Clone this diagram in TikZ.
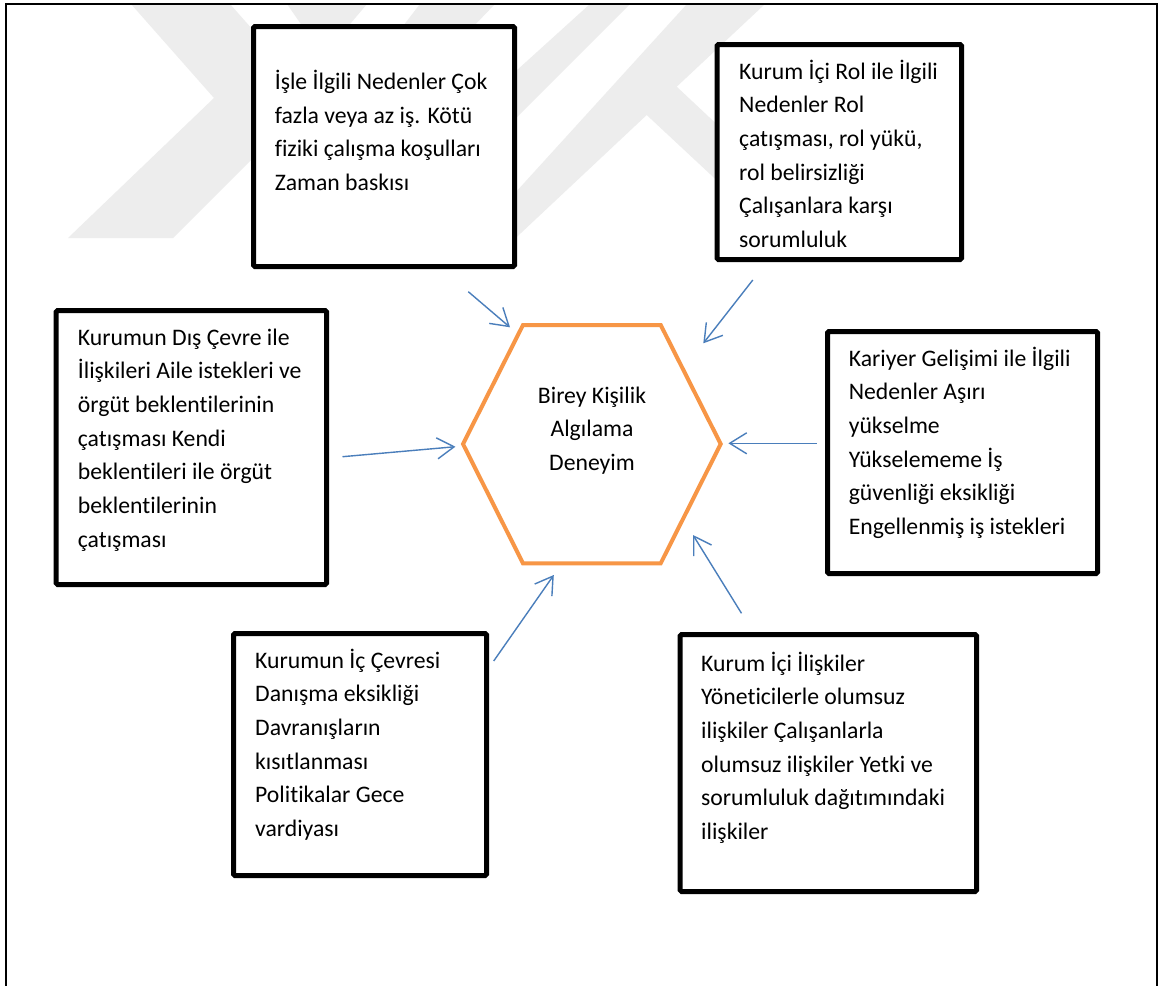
\documentclass[tikz,border=0pt]{standalone}
\usepackage{fontspec}
\setmainfont[Ligatures=NoCommon]{Carlito}
\usetikzlibrary{arrows.meta}
\definecolor{hexorange}{HTML}{F79646}
\definecolor{arrowblue}{HTML}{4A7EBB}
\definecolor{wmgray}{HTML}{EDEDED}
\newcommand\bodyfont{\fontsize{23.7pt}{33.7pt}\selectfont}
\newcommand\leftlines[1]{\vtop{\baselineskip=33.7pt\lineskiplimit=-20pt\halign{##\hfil\cr#1\crcr}}}
\newcommand\centerlines[1]{\vtop{\baselineskip=33.4pt\lineskiplimit=-20pt\halign{\hfil##\hfil\cr#1\crcr}}}
\tikzset{
  causebox/.style={draw=black, line width=5pt, fill=white, rounded corners=1.5pt, inner sep=0pt},
  causetext/.style={anchor=base west, inner sep=0pt, font=\bodyfont},
  centertext/.style={anchor=base, inner sep=0pt, font=\bodyfont},
  arrowline/.style={draw=arrowblue, line width=1.4pt, -{Straight Barb[length=17pt,width=21pt]}},
  wm/.style={fill=wmgray, draw=none},
  hexline/.style={draw=hexorange, line width=4pt, line join=miter},
  framestyle/.style={draw=black, line width=2pt}
}
\begin{document}
\begin{tikzpicture}[x=1pt,y=-1pt]
\useasboundingbox[fill=white] (0,0) rectangle (1169,985);

% watermark
\fill[wm] (131,4) -- (230,4) -- (313,98) -- (173,238) -- (68,238) -- (214,98) -- cycle;
\fill[wm] (287,4) -- (367,4) -- (345,30) -- (305,30) -- cycle;
\fill[wm] (420,4) -- (495,4) -- (470,30) -- (400,30) -- cycle;
\fill[wm] (590,4) -- (630,4) -- (505,129) -- (505,81) -- cycle;
\fill[wm] (687,4) -- (765,4) -- (676.7,86.7) -- (725,132) -- (725,188) -- (646.7,115) -- (505,248) -- (505,204) -- cycle;

% outer frame
\draw[framestyle] (6,986) -- (6,3.5) -- (1157,3.5) -- (1157,986);

% boxes
\node[causebox, minimum width=261pt, minimum height=240pt] (b1) at (384,146.5) {};
\node[causebox, minimum width=244.5pt, minimum height=215pt] (b2) at (839.25,152) {};
\node[causebox, minimum width=270.5pt, minimum height=274pt] (b3) at (191.3,447.5) {};
\node[causebox, minimum width=270pt, minimum height=242pt] (b4) at (962.5,452.5) {};
\node[causebox, minimum width=253pt, minimum height=242pt] (b5) at (360,754.5) {};
\node[causebox, minimum width=296.5pt, minimum height=257pt] (b6) at (828.3,763) {};

% texts
\node[causetext] (t1) at (274.6,89.3) {\leftlines{İşle İlgili Nedenler Çok\cr fazla veya az iş. Kötü\cr fiziki çalışma koşulları\cr Zaman baskısı}};
\node[causetext] (t2) at (739,79) {\leftlines{Kurum İçi Rol ile İlgili\cr Nedenler Rol\cr çatışması, rol yükü,\cr rol belirsizliği\cr Çalışanlara karşı\cr sorumluluk}};
\node[causetext] (t3) at (77.7,345) {\leftlines{Kurumun Dış Çevre ile\cr İlişkileri Aile istekleri ve\cr örgüt beklentilerinin\cr çatışması Kendi\cr beklentileri ile örgüt\cr beklentilerinin\cr çatışması}};
\node[causetext] (t4) at (848.6,366) {\leftlines{Kariyer Gelişimi ile İlgili\cr Nedenler Aşırı\cr yükselme\cr Yükselememe İş\cr güvenliği eksikliği\cr Engellenmiş iş istekleri}};
\node[causetext] (t5) at (255,668) {\leftlines{Kurumun İç Çevresi\cr Danışma eksikliği\cr Davranışların\cr kısıtlanması\cr Politikalar Gece\cr vardiyası}};
\node[causetext] (t6) at (701,671) {\leftlines{Kurum İçi İlişkiler\cr Yöneticilerle olumsuz\cr ilişkiler Çalışanlarla\cr olumsuz ilişkiler Yetki ve\cr sorumluluk dağıtımındaki\cr ilişkiler}};

% hexagon
\coordinate (h1) at (523,325);
\coordinate (h2) at (660.7,325);
\coordinate (h3) at (720.7,444);
\coordinate (h4) at (660.7,563.3);
\coordinate (h5) at (523,563.3);
\coordinate (h6) at (463,444);
\draw[hexline] (h1) -- (h2) -- (h3) -- (h4) -- (h5) -- (h6) -- cycle;
\node[centertext] (hex) at (592,403.3) {\centerlines{Birey Kişilik\cr Algılama\cr Deneyim}};

% arrows
\coordinate (a1s) at (468.3,291.7); \coordinate (a1e) at (510,327.3);
\coordinate (a2s) at (752.8,280);   \coordinate (a2e) at (703.3,343.3);
\coordinate (a3s) at (342.5,456.7); \coordinate (a3e) at (455.4,446.7);
\coordinate (a4s) at (816.7,443.3); \coordinate (a4e) at (728.4,443.3);
\coordinate (a5s) at (741.5,613.3); \coordinate (a5e) at (693,535);
\coordinate (a6s) at (493.7,661);   \coordinate (a6e) at (553.8,575);
\draw[arrowline] (a1s) -- (a1e);
\draw[arrowline] (a2s) -- (a2e);
\draw[arrowline] (a3s) -- (a3e);
\draw[arrowline] (a4s) -- (a4e);
\draw[arrowline] (a5s) -- (a5e);
\draw[arrowline] (a6s) -- (a6e);
\end{tikzpicture}
\end{document}
